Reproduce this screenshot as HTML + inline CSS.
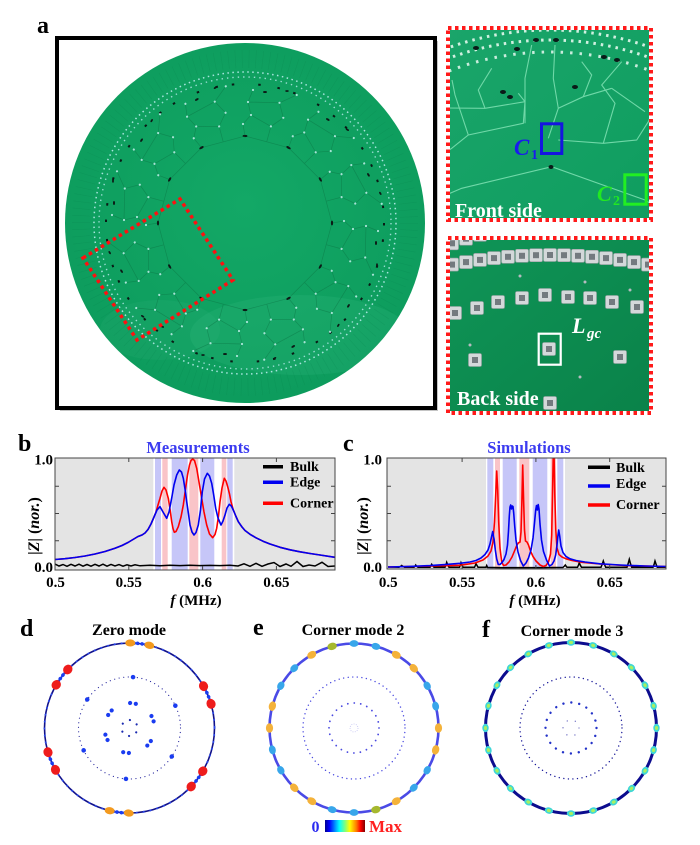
<!DOCTYPE html>
<html><head><meta charset="utf-8"><style>
html,body{margin:0;padding:0;background:#fff;overflow:hidden}
svg{display:block}
</style></head><body>
<svg width="700" height="845" viewBox="0 0 700 845" xmlns="http://www.w3.org/2000/svg" font-family="'Liberation Serif', serif">
<defs>
<radialGradient id="gb" cx="0.5" cy="0.45" r="0.55">
<stop offset="0" stop-color="#13a866"/><stop offset="1" stop-color="#0d9c5d"/>
</radialGradient>
<linearGradient id="gfront" x1="0" y1="0" x2="1" y2="1">
<stop offset="0" stop-color="#1aa56a"/><stop offset="1" stop-color="#0f9d5f"/>
</linearGradient>
<linearGradient id="gback" x1="0" y1="0" x2="1" y2="1">
<stop offset="0" stop-color="#0f9557"/><stop offset="1" stop-color="#0a8249"/>
</linearGradient>
<linearGradient id="jet" x1="0" y1="0" x2="1" y2="0">
<stop offset="0" stop-color="#00008f"/><stop offset=".11" stop-color="#0000ff"/><stop offset=".36" stop-color="#00ffff"/><stop offset=".5" stop-color="#7fff7f"/><stop offset=".62" stop-color="#ffff00"/><stop offset=".78" stop-color="#ff7f00"/><stop offset=".89" stop-color="#ff0000"/><stop offset="1" stop-color="#800000"/>
</linearGradient>
<clipPath id="cboard"><circle cx="245" cy="223" r="180"/></clipPath>
<clipPath id="cf"><rect x="446" y="26" width="207" height="196"/></clipPath>
<clipPath id="cbk"><rect x="446" y="236" width="207" height="179"/></clipPath>
<clipPath id="cb"><rect x="55" y="458" width="280" height="112"/></clipPath>
<clipPath id="cc"><rect x="387" y="458" width="279" height="111"/></clipPath>
<g id="sec">
<path d="M0,-87 L43.5,-75.3 M0,-87 L-2,-99 L6,-108 L3,-121 L8,-133 M25.9,-96.6 L38.3,-105.2 L34.5,-120.2 L51.7,-128 M6,-108 L25.9,-96.6 M3,-121 L34.5,-120.2 M21.7,-81.2 L25.9,-96.6" stroke="#0a6f40" stroke-width=".7" fill="none" opacity=".45"/>
<g fill="#b8ece4" opacity=".9"><circle cx="-2" cy="-99" r="1.1"/><circle cx="6" cy="-108" r="1.1"/><circle cx="3" cy="-121" r="1.1"/><circle cx="8" cy="-133" r="1.1"/><circle cx="25.9" cy="-96.6" r="1.1"/><circle cx="38.3" cy="-105.2" r="1.1"/><circle cx="34.5" cy="-120.2" r="1.1"/><circle cx="51.7" cy="-128" r="1.1"/></g>
<g fill="#0c1a16"><ellipse cx="0" cy="-87" rx="2.4" ry="1.1"/><ellipse cx="20" cy="-131" rx="2" ry="1"/><ellipse cx="42" cy="-132" rx="1.8" ry=".9"/></g>
</g>
<g id="ind"><rect x="-6.5" y="-6.5" width="13" height="13" rx="1.5" fill="#d4d8da" stroke="#9aa1a4" stroke-width=".6"/><rect x="-3" y="-3" width="6" height="6" fill="#737a7f"/></g>
</defs>
<rect width="700" height="845" fill="#fff"/>

<!-- ===== Panel a ===== -->
<text x="37" y="33" font-size="24" font-weight="bold">a</text>
<rect x="60" y="41" width="378" height="370" fill="#c4c4c4"/>
<rect x="57" y="38" width="378" height="370" fill="#fff" stroke="#000" stroke-width="4"/>
<circle cx="245" cy="223" r="180" fill="url(#gb)"/>
<g clip-path="url(#cboard)">
<ellipse cx="300" cy="335" rx="110" ry="40" fill="#3fc08a" opacity=".18"/>
<ellipse cx="160" cy="330" rx="60" ry="30" fill="#3fc08a" opacity=".12"/>
</g>
<circle cx="245" cy="223" r="164" fill="none" stroke="#0b7a48" stroke-width="18" stroke-dasharray="0.5 6.37" opacity=".22"/>
<circle cx="245" cy="223" r="151" fill="none" stroke="#b8ecec" stroke-width="1.5" stroke-dasharray="1.5 3.49" opacity=".9"/>
<circle cx="245" cy="223" r="146" fill="none" stroke="#b0e6e6" stroke-width="1.4" stroke-dasharray="1.4 4" opacity=".85"/>
<circle cx="245" cy="223" r="139" fill="none" stroke="#0a1a15" stroke-width="2" stroke-dasharray="2.5 14 2.5 24 2.5 17"/>
<g transform="translate(245,223)">
<use href="#sec"/><use href="#sec" transform="rotate(30)"/><use href="#sec" transform="rotate(60)"/><use href="#sec" transform="rotate(90)"/><use href="#sec" transform="rotate(120)"/><use href="#sec" transform="rotate(150)"/><use href="#sec" transform="rotate(180)"/><use href="#sec" transform="rotate(210)"/><use href="#sec" transform="rotate(240)"/><use href="#sec" transform="rotate(270)"/><use href="#sec" transform="rotate(300)"/><use href="#sec" transform="rotate(330)"/>
</g>
<polygon points="83,258 180,199 233,280 137,340" fill="none" stroke="#ff1010" stroke-width="3.5" stroke-dasharray="3.5 3.5"/>

<!-- front side -->
<g clip-path="url(#cf)">
<rect x="446" y="26" width="207" height="196" fill="url(#gfront)"/>
<circle cx="550" cy="330" r="300" fill="none" stroke="#d0f0e0" stroke-width="3" stroke-dasharray="2.5 5"/>
<circle cx="550" cy="330" r="290" fill="none" stroke="#d0f0e0" stroke-width="3" stroke-dasharray="2.5 5"/>
<circle cx="550" cy="330" r="278" fill="none" stroke="#c8ecdc" stroke-width="3" stroke-dasharray="2.5 7"/>
<g stroke="#70d8a8" stroke-width="1.1" fill="none">
<polyline points="446,152 451.7,148.3 468.3,135 523.3,123.3 525,101.7 518.3,93.3"/>
<polyline points="468.3,135 460,110 455,95 452,80"/>
<polyline points="548.3,138.3 558.3,108.3 553.3,78.3 555,45"/>
<polyline points="558.3,140 603.3,143.3 636.7,140 648.3,121.7 653,110"/>
<polyline points="603.3,143.3 615,103.3 601.7,85 621.7,61.7"/>
<polyline points="525,123.3 525,78.3 531.7,45"/>
<polyline points="485,108.3 478.3,90 491.7,68.3"/>
<polyline points="446,108 485,108.3 525,101.7"/>
<polyline points="583.3,96.7 591.7,75 581.7,61.7"/>
<polyline points="611.7,88.3 645,111.7"/>
<polyline points="446,195 461.7,188.3 551.7,166.7 645,200 653,205"/>
<polyline points="558.3,108.3 583.3,96.7 611.7,88.3"/>
</g>
<g fill="#0a1a18">
<ellipse cx="476" cy="48" rx="3" ry="2"/><ellipse cx="536" cy="40" rx="3" ry="2"/><ellipse cx="556" cy="40" rx="3" ry="2"/><ellipse cx="517" cy="49" rx="3" ry="2"/><ellipse cx="604" cy="57" rx="3" ry="2"/><ellipse cx="617" cy="60" rx="3" ry="2"/><ellipse cx="503" cy="92" rx="3" ry="2"/><ellipse cx="510" cy="97" rx="3" ry="2"/><ellipse cx="575" cy="87" rx="3" ry="2"/><ellipse cx="551" cy="167" rx="2.5" ry="2"/>
</g>
</g>
<rect x="448" y="28" width="203" height="192" fill="none" stroke="#fff" stroke-width="4"/>
<rect x="448" y="28" width="203" height="192" fill="none" stroke="#ff1a1a" stroke-width="4" stroke-dasharray="3.5 3.5"/>
<rect x="541.5" y="123.8" width="20.3" height="29.7" fill="none" stroke="#1515e0" stroke-width="3"/>
<rect x="624.8" y="174.8" width="21.4" height="29.4" fill="none" stroke="#22ee22" stroke-width="3"/>
<text x="514" y="155" font-size="23" font-weight="bold" font-style="italic" fill="#1a1aee">C</text>
<text x="531" y="159" font-size="14" font-weight="bold" fill="#1a1aee">1</text>
<text x="597" y="201" font-size="22" font-weight="bold" font-style="italic" fill="#22e822">C</text>
<text x="613" y="205" font-size="14" font-weight="bold" fill="#22e822">2</text>
<text x="455" y="217" font-size="20" font-weight="bold" fill="#fff">Front side</text>

<!-- back side -->
<g clip-path="url(#cbk)">
<rect x="446" y="236" width="207" height="179" fill="url(#gback)"/>
<use href="#ind" x="452" y="243.3"/><use href="#ind" x="466" y="238.7"/><use href="#ind" x="480" y="234.8"/>
<use href="#ind" x="452" y="264.6"/><use href="#ind" x="466" y="262.1"/><use href="#ind" x="480" y="259.9"/><use href="#ind" x="494" y="258.1"/><use href="#ind" x="508" y="256.8"/><use href="#ind" x="522" y="255.8"/><use href="#ind" x="536" y="255.2"/><use href="#ind" x="550" y="255"/><use href="#ind" x="564" y="255.2"/><use href="#ind" x="578" y="255.8"/><use href="#ind" x="592" y="256.8"/><use href="#ind" x="606" y="258.1"/><use href="#ind" x="620" y="259.9"/><use href="#ind" x="634" y="262.1"/><use href="#ind" x="648" y="264.6"/>
<use href="#ind" x="455" y="313"/><use href="#ind" x="477" y="308"/><use href="#ind" x="498" y="302"/><use href="#ind" x="522" y="298"/><use href="#ind" x="545" y="295"/><use href="#ind" x="568" y="297"/><use href="#ind" x="590" y="298"/><use href="#ind" x="612" y="302"/><use href="#ind" x="637" y="307"/>
<use href="#ind" x="475" y="360"/><use href="#ind" x="549" y="349"/><use href="#ind" x="620" y="357"/>
<use href="#ind" x="550" y="403"/>
<g fill="#b5bcc0"><circle cx="520" cy="276" r="1.5"/><circle cx="585" cy="282" r="1.5"/><circle cx="470" cy="345" r="1.5"/><circle cx="580" cy="377" r="1.5"/><circle cx="630" cy="290" r="1.5"/></g>
</g>
<rect x="448" y="238" width="203" height="175" fill="none" stroke="#fff" stroke-width="4"/>
<rect x="448" y="238" width="203" height="175" fill="none" stroke="#ff1a1a" stroke-width="4" stroke-dasharray="3.5 3.5"/>
<rect x="538.7" y="333.7" width="22" height="31" fill="none" stroke="#fff" stroke-width="2.2"/>
<text x="572" y="333" font-size="22" font-weight="bold" font-style="italic" fill="#fff">L</text>
<text x="587" y="338" font-size="15" font-weight="bold" font-style="italic" fill="#fff">gc</text>
<text x="457" y="405" font-size="20" font-weight="bold" fill="#fff">Back side</text>

<!-- ===== Panel b ===== -->
<text x="18" y="451" font-size="24" font-weight="bold">b</text>
<text x="198" y="453" font-size="16.5" font-weight="bold" fill="#3c3cf0" text-anchor="middle">Measurements</text>
<g clip-path="url(#cb)">
<rect x="55" y="458" width="280" height="112" fill="#e4e4e4"/>
<rect x="153.3" y="458" width="81" height="112" fill="#fff"/>
<g fill="#c6c6f8"><rect x="155" y="458" width="6" height="112"/><rect x="171.7" y="458" width="16" height="112"/><rect x="200.3" y="458" width="14" height="112"/><rect x="227.3" y="458" width="5.4" height="112"/></g>
<g fill="#f9c4c8"><rect x="162.3" y="458" width="5.4" height="112"/><rect x="189.3" y="458" width="9" height="112"/><rect x="221.7" y="458" width="4.6" height="112"/></g>
<polyline fill="none" stroke="#000" stroke-width="1.5" points="55,564 59,566 63,564.5 67,566.3 71,564.3 75,566 79,564.2 83,566.2 87,564.5 91,566.2 95,564.3 99,566 103,564.2 107,566.2 111,564.4 115,566 119,564.6 123,566.2 127,564.8 131,566 135,564.8 140,565.8 150,565.3 160,565.8 170,565.3 180,565.6 190,565.3 200,565.6 210,565.4 220,565.6 230,565.2 238,566 244,563.8 250,566.3 256,563.3 262,566.3 268,564 274,562.5 280,566.5 286,564 291,566.3 297,561.5 303,566.5 309,565 315,566 322,562.3 328,566.5 335,566"/>
<polyline fill="none" stroke="#ff0000" stroke-width="1.6" stroke-linejoin="round" points="55,559.5 65,558.7 75,557.5 85,556 95,554 105,551.5 115,548.3 122,545.5 128,542.5 133,539.5 138,536.5 142,535 145,533 148,529.5 151,524 154,517 156,512 158,505 160,498.3 162,491 164,487.3 166,490 168.3,498.3 170,509 171.7,521.7 173,528.5 174.3,532.3 176,531.5 178.3,526.7 181,517 183.3,505 185.5,489 187.5,475 189.5,465 191,460.5 192.7,459 194.5,460.5 196.7,468.3 199,482 201.7,498.3 204,512 206.7,525 209.5,534 212.7,537.7 215,534.5 216.7,528.3 218.5,516 220,501.7 222,488 224.3,478.3 226,481 227.7,486.7 229.5,494 231,501.7 233.3,510 236,516.5 238.3,521.7 242,527 245,530.5 250,534.3 256,537.8 263,541.2 270,544 280,547.3 290,549.8 300,551.8 310,553.5 320,555 335,557.3"/>
<polyline fill="none" stroke="#0000f0" stroke-width="1.6" stroke-linejoin="round" points="55,559.5 65,558.7 75,557.5 85,556 95,554 105,551.5 115,548.3 122,545.5 128,542.5 133,539.5 138,536.5 142,535 145,533 148,529.5 151,524 154,517 157,510 160,506.7 163.3,512.5 166.7,518.3 169,512 171.7,498 174,485 176.7,475 179.3,470 181.5,472 183.3,478.3 185,489 186.7,501.7 188.5,514 190,525 192,532 194,535 196,532.5 198.3,525 200.5,510 202.3,491.7 204.5,479 207.3,473.3 209.5,476 211.7,483.3 213.7,495 215.7,508.3 218,518 221,525 223,521 225,515 227,508 229.3,504.3 231.3,506 233.3,510 236,516.5 238.3,521.7 242,527 245,530.5 250,534.3 256,537.8 263,541.2 270,544 280,547.3 290,549.8 300,551.8 310,553.5 320,555 335,557.3"/>
</g>
<rect x="55" y="458" width="280" height="112" fill="none" stroke="#444" stroke-width="1"/>
<g stroke="#444" stroke-width="1">
<line x1="55" y1="540.75" x2="59" y2="540.75"/><line x1="55" y1="513.5" x2="59" y2="513.5"/><line x1="55" y1="486.25" x2="59" y2="486.25"/>
<line x1="335" y1="540.75" x2="331" y2="540.75"/><line x1="335" y1="513.5" x2="331" y2="513.5"/><line x1="335" y1="486.25" x2="331" y2="486.25"/>
<line x1="128.8" y1="570" x2="128.8" y2="566"/><line x1="202.6" y1="570" x2="202.6" y2="566"/><line x1="276.4" y1="570" x2="276.4" y2="566"/>
<line x1="128.8" y1="458" x2="128.8" y2="462"/><line x1="202.6" y1="458" x2="202.6" y2="462"/><line x1="276.4" y1="458" x2="276.4" y2="462"/>
</g>
<g font-size="15" font-weight="bold">
<text x="53" y="464.5" text-anchor="end">1.0</text>
<text x="53" y="572" text-anchor="end">0.0</text>
<text x="55.5" y="587" text-anchor="middle">0.5</text>
<text x="128.8" y="587" text-anchor="middle">0.55</text>
<text x="202.6" y="587" text-anchor="middle">0.6</text>
<text x="276.4" y="587" text-anchor="middle">0.65</text>
</g>
<text transform="translate(39,526) rotate(-90)" text-anchor="middle" font-size="16" font-weight="bold">|<tspan font-style="italic">Z</tspan>| (<tspan font-style="italic">nor.</tspan>)</text>
<text x="196" y="605" text-anchor="middle" font-size="15" font-weight="bold"><tspan font-style="italic">f</tspan> (MHz)</text>
<line x1="263" y1="466.7" x2="283" y2="466.7" stroke="#000" stroke-width="3.5"/>
<line x1="263" y1="482.3" x2="283" y2="482.3" stroke="#0000f0" stroke-width="3.5"/>
<line x1="263" y1="503.3" x2="283" y2="503.3" stroke="#ff0000" stroke-width="3.5"/>
<g font-size="14" font-weight="bold">
<text x="290" y="471">Bulk</text><text x="290" y="486.5">Edge</text><text x="290" y="507.5">Corner</text>
</g>

<!-- ===== Panel c ===== -->
<text x="343" y="451" font-size="24" font-weight="bold">c</text>
<text x="529" y="453" font-size="16.5" font-weight="bold" fill="#3c3cf0" text-anchor="middle">Simulations</text>
<g clip-path="url(#cc)">
<rect x="387" y="458" width="279" height="111" fill="#e4e4e4"/>
<rect x="486" y="458" width="79" height="111" fill="#fff"/>
<g fill="#c6c6f8"><rect x="487.3" y="458" width="6" height="111"/><rect x="502.7" y="458" width="14" height="111"/><rect x="532.7" y="458" width="14.6" height="111"/><rect x="557.3" y="458" width="6" height="111"/></g>
<g fill="#f9c4c8"><rect x="495" y="458" width="5" height="111"/><rect x="519.3" y="458" width="10" height="111"/><rect x="550.7" y="458" width="5.3" height="111"/></g>
<polyline fill="none" stroke="#000" stroke-width="1.5" points="388,567 399,567.2 400.5,566.5 401.7,565.5 403,566.5 404.5,567.3 414,567.3 415,566.3 415.7,565 416.7,566.3 418,567.3 430,567.3 431,565.8 431.7,564.3 432.7,565.8 434,567.3 445,567.3 446,564.8 446.7,562.3 447.7,564.8 449,567.3 459.5,567.3 460.3,565 461,562.7 462,565 463,567.3 474.5,567.3 475.3,565.5 476,563.7 477,565.5 478,567.3 486,567.3 486.7,565.5 487.5,567.4 500,567.6 520,567.6 540,567.6 563,567.4 564.5,566 565.3,565 566,566 567,567.3 577.5,567.3 578.5,565 579.3,562.7 580.2,565 581.5,567.3 601,567.3 602.3,564 603.3,561 604.3,564 605.7,567.3 627,567.3 628.3,563 629.3,559.3 630.3,563 631.7,567.3 653,567.3 654.2,564 655,561 656,564 657.3,567.3 666,567.3"/>
<polyline fill="none" stroke="#ff0000" stroke-width="1.6" stroke-linejoin="round" points="388,567 430,566 460,565.3 475,563 483,560 488,556 491,551 493,542 494.5,522 495.7,495 496.7,471 497.7,490 498.7,522 500,548 501.7,562 503.5,565.5 506,565 509,562 512,557 514.5,551 516.5,546 518.3,543 520,542 521,532 521.8,505 522.7,465 523.6,500 524.5,530 525.5,541 527,542 528.5,545 530.5,551 533,556.5 536,561 540,565 543.3,566.5 546,565.5 548.5,562 550.5,554 551.7,535 552.6,490 553.3,452 554,452 554.8,495 555.8,530 557,548 559,554.5 562,557 566,558.8 572,560.5 582,562.3 600,564 625,565.5 666,566.5"/>
<polyline fill="none" stroke="#0000f0" stroke-width="1.6" stroke-linejoin="round" points="388,567 410,566.4 430,565.6 445,564.6 460,563.3 470,562 476,560.5 481,558 485,554.5 488,550 490,544 491.5,537 492.7,531.5 494,538.5 495.3,550 496.7,559 498.3,564.5 500,564.5 502,562.5 504,559.5 506,554 507.5,545 508.5,531 509.3,516 510,507 510.7,505 511.5,509 512.3,506 513,506.5 513.7,513 514.7,526 516,540 518,552 520.5,560.5 523.3,566 526,563 528.5,558 531,550 533,538 534.5,523 535.7,510 536.5,505.5 537.3,510 538.2,504.5 539,509 540,524 541.5,540 543.5,551.5 546.5,560 549.5,566 552,564.5 554,561 555.7,555 557,545 558,535 558.7,530 559.7,536 561,546 563,552.5 566,556.5 570,558.8 576,560.5 585,562 600,563.8 620,565 645,566 666,566.5"/>
</g>
<rect x="387" y="458" width="279" height="111" fill="none" stroke="#444" stroke-width="1"/>
<g stroke="#444" stroke-width="1">
<line x1="387" y1="540.75" x2="391" y2="540.75"/><line x1="387" y1="513.5" x2="391" y2="513.5"/><line x1="387" y1="486.25" x2="391" y2="486.25"/>
<line x1="666" y1="540.75" x2="662" y2="540.75"/><line x1="666" y1="513.5" x2="662" y2="513.5"/><line x1="666" y1="486.25" x2="662" y2="486.25"/>
<line x1="462.1" y1="569" x2="462.1" y2="565"/><line x1="535.9" y1="569" x2="535.9" y2="565"/><line x1="609.7" y1="569" x2="609.7" y2="565"/>
<line x1="462.1" y1="458" x2="462.1" y2="462"/><line x1="535.9" y1="458" x2="535.9" y2="462"/><line x1="609.7" y1="458" x2="609.7" y2="462"/>
</g>
<g font-size="15" font-weight="bold">
<text x="382" y="464.5" text-anchor="end">1.0</text>
<text x="382" y="572" text-anchor="end">0.0</text>
<text x="388.3" y="587" text-anchor="middle">0.5</text>
<text x="462.1" y="587" text-anchor="middle">0.55</text>
<text x="535.9" y="587" text-anchor="middle">0.6</text>
<text x="609.7" y="587" text-anchor="middle">0.65</text>
</g>
<text transform="translate(368,526) rotate(-90)" text-anchor="middle" font-size="16" font-weight="bold">|<tspan font-style="italic">Z</tspan>| (<tspan font-style="italic">nor.</tspan>)</text>
<text x="535" y="605" text-anchor="middle" font-size="15" font-weight="bold"><tspan font-style="italic">f</tspan> (MHz)</text>
<line x1="588" y1="467.3" x2="610" y2="467.3" stroke="#000" stroke-width="3.5"/>
<line x1="588" y1="486" x2="610" y2="486" stroke="#0000f0" stroke-width="3.5"/>
<line x1="588" y1="505" x2="610" y2="505" stroke="#ff0000" stroke-width="3.5"/>
<g font-size="14" font-weight="bold">
<text x="616" y="472">Bulk</text><text x="616" y="488">Edge</text><text x="616" y="509">Corner</text>
</g>

<!-- ===== Panel d ===== -->
<text x="20" y="636" font-size="24" font-weight="bold">d</text>
<text x="129" y="635" font-size="16" font-weight="bold" text-anchor="middle">Zero mode</text>
<g transform="translate(129.5,728)">
<circle r="85" fill="none" stroke="#12128a" stroke-width="1.6"/>
<circle r="85" fill="none" stroke="#2a48e8" stroke-width="2" stroke-linecap="round" stroke-dasharray="0.01 7"/>
<circle r="51" fill="none" stroke="#2a2aa0" stroke-width="1.2" stroke-linecap="round" stroke-dasharray="0.01 4.58"/>
<g fill="#1a3cf0">
<circle cx="0" cy="-51" r="2.3" transform="rotate(4)"/><circle cx="0" cy="-51" r="2.3" transform="rotate(64)"/><circle cx="0" cy="-51" r="2.3" transform="rotate(124)"/><circle cx="0" cy="-51" r="2.3" transform="rotate(184)"/><circle cx="0" cy="-51" r="2.3" transform="rotate(244)"/><circle cx="0" cy="-51" r="2.3" transform="rotate(304)"/>
<circle cx="0" cy="-25" r="2.1" transform="rotate(1.4)"/><circle cx="0" cy="-25" r="2.1" transform="rotate(14.6)"/>
<circle cx="0" cy="-25" r="2.1" transform="rotate(61.4)"/><circle cx="0" cy="-25" r="2.1" transform="rotate(74.6)"/>
<circle cx="0" cy="-25" r="2.1" transform="rotate(121.4)"/><circle cx="0" cy="-25" r="2.1" transform="rotate(134.6)"/>
<circle cx="0" cy="-25" r="2.1" transform="rotate(181.4)"/><circle cx="0" cy="-25" r="2.1" transform="rotate(194.6)"/>
<circle cx="0" cy="-25" r="2.1" transform="rotate(241.4)"/><circle cx="0" cy="-25" r="2.1" transform="rotate(254.6)"/>
<circle cx="0" cy="-25" r="2.1" transform="rotate(301.4)"/><circle cx="0" cy="-25" r="2.1" transform="rotate(314.6)"/>
</g>
<g fill="#1a2ab0">
<circle cx="0" cy="-8" r="1.1" transform="rotate(3)"/><circle cx="0" cy="-8" r="1.1" transform="rotate(63)"/><circle cx="0" cy="-8" r="1.1" transform="rotate(123)"/><circle cx="0" cy="-8" r="1.1" transform="rotate(183)"/><circle cx="0" cy="-8" r="1.1" transform="rotate(243)"/><circle cx="0" cy="-8" r="1.1" transform="rotate(303)"/>
</g>
<g transform="rotate(7)">
<g fill="#1a3cf0"><circle cx="-5.9" cy="-84.8" r="1.8"/><circle cx="-2.2" cy="-85" r="1.8"/><circle cx="2.2" cy="-85" r="1.8"/><circle cx="5.9" cy="-84.8" r="1.8"/></g>
<ellipse cx="-9.6" cy="-84.5" rx="5" ry="3.6" fill="#f39a1e" transform="rotate(-6.5 -9.6 -84.5)"/>
<ellipse cx="9.6" cy="-84.5" rx="5" ry="3.6" fill="#f39a1e" transform="rotate(6.5 9.6 -84.5)"/>
</g>
<g transform="rotate(187)">
<g fill="#1a3cf0"><circle cx="-5.9" cy="-84.8" r="1.8"/><circle cx="-2.2" cy="-85" r="1.8"/><circle cx="2.2" cy="-85" r="1.8"/><circle cx="5.9" cy="-84.8" r="1.8"/></g>
<ellipse cx="-9.6" cy="-84.5" rx="5" ry="3.6" fill="#f39a1e"/>
<ellipse cx="9.6" cy="-84.5" rx="5" ry="3.6" fill="#f39a1e"/>
</g>
<g transform="rotate(67)">
<g fill="#1a3cf0"><circle cx="-5.9" cy="-84.8" r="1.8"/><circle cx="-2.2" cy="-85" r="1.8"/><circle cx="2.2" cy="-85" r="1.8"/><circle cx="5.9" cy="-84.8" r="1.8"/></g>
<ellipse cx="-9.6" cy="-84.5" rx="5" ry="4.5" fill="#ee1c1c"/>
<ellipse cx="9.6" cy="-84.5" rx="5" ry="4.5" fill="#ee1c1c"/>
</g>
<g transform="rotate(127)">
<g fill="#1a3cf0"><circle cx="-5.9" cy="-84.8" r="1.8"/><circle cx="-2.2" cy="-85" r="1.8"/><circle cx="2.2" cy="-85" r="1.8"/><circle cx="5.9" cy="-84.8" r="1.8"/></g>
<ellipse cx="-9.6" cy="-84.5" rx="5" ry="4.5" fill="#ee1c1c"/>
<ellipse cx="9.6" cy="-84.5" rx="5" ry="4.5" fill="#ee1c1c"/>
</g>
<g transform="rotate(247)">
<g fill="#1a3cf0"><circle cx="-5.9" cy="-84.8" r="1.8"/><circle cx="-2.2" cy="-85" r="1.8"/><circle cx="2.2" cy="-85" r="1.8"/><circle cx="5.9" cy="-84.8" r="1.8"/></g>
<ellipse cx="-9.6" cy="-84.5" rx="5" ry="4.5" fill="#ee1c1c"/>
<ellipse cx="9.6" cy="-84.5" rx="5" ry="4.5" fill="#ee1c1c"/>
</g>
<g transform="rotate(307)">
<g fill="#1a3cf0"><circle cx="-5.9" cy="-84.8" r="1.8"/><circle cx="-2.2" cy="-85" r="1.8"/><circle cx="2.2" cy="-85" r="1.8"/><circle cx="5.9" cy="-84.8" r="1.8"/></g>
<ellipse cx="-9.6" cy="-84.5" rx="5" ry="4.5" fill="#ee1c1c"/>
<ellipse cx="9.6" cy="-84.5" rx="5" ry="4.5" fill="#ee1c1c"/>
</g>
</g>

<!-- ===== Panel e ===== -->
<text x="253" y="635" font-size="24" font-weight="bold">e</text>
<text x="353" y="635" font-size="16" font-weight="bold" text-anchor="middle">Corner mode 2</text>
<g transform="translate(354,728)">
<circle r="84.5" fill="none" stroke="#4a4ae6" stroke-width="2.6"/>
<circle r="51" fill="none" stroke="#4a4ae0" stroke-width="1.4" stroke-linecap="round" stroke-dasharray="0.01 4.58"/>
<circle r="25" fill="none" stroke="#4a4ae0" stroke-width="1.8" stroke-linecap="round" stroke-dasharray="0.01 6.54"/>
<circle r="4" fill="none" stroke="#b8b8f0" stroke-width=".8" stroke-dasharray="0.8 1.5"/>
<g>
<ellipse cx="0" cy="-84.5" rx="4.8" ry="3.6" fill="#f4b23a" transform="rotate(90)"/>
<ellipse cx="0" cy="-84.5" rx="4.8" ry="3.6" fill="#f4b23a" transform="rotate(105)"/>
<ellipse cx="0" cy="-84.5" rx="4.5" ry="3.4" fill="#38a6ea" transform="rotate(120)"/>
<ellipse cx="0" cy="-84.5" rx="4.5" ry="3.4" fill="#38a6ea" transform="rotate(135)"/>
<ellipse cx="0" cy="-84.5" rx="4.8" ry="3.6" fill="#f4b23a" transform="rotate(150)"/>
<ellipse cx="0" cy="-84.5" rx="4.8" ry="3.6" fill="#a6b82e" transform="rotate(165)"/>
<ellipse cx="0" cy="-84.5" rx="4.5" ry="3.4" fill="#38a6ea" transform="rotate(180)"/>
<ellipse cx="0" cy="-84.5" rx="4.5" ry="3.4" fill="#38a6ea" transform="rotate(195)"/>
<ellipse cx="0" cy="-84.5" rx="4.8" ry="3.6" fill="#f4b23a" transform="rotate(210)"/>
<ellipse cx="0" cy="-84.5" rx="4.8" ry="3.6" fill="#f4b23a" transform="rotate(225)"/>
<ellipse cx="0" cy="-84.5" rx="4.5" ry="3.4" fill="#38a6ea" transform="rotate(240)"/>
<ellipse cx="0" cy="-84.5" rx="4.5" ry="3.4" fill="#38a6ea" transform="rotate(255)"/>
<ellipse cx="0" cy="-84.5" rx="4.8" ry="3.6" fill="#f4b23a" transform="rotate(270)"/>
<ellipse cx="0" cy="-84.5" rx="4.8" ry="3.6" fill="#f4b23a" transform="rotate(285)"/>
<ellipse cx="0" cy="-84.5" rx="4.5" ry="3.4" fill="#38a6ea" transform="rotate(300)"/>
<ellipse cx="0" cy="-84.5" rx="4.5" ry="3.4" fill="#38a6ea" transform="rotate(315)"/>
<ellipse cx="0" cy="-84.5" rx="4.8" ry="3.6" fill="#f4b23a" transform="rotate(330)"/>
<ellipse cx="0" cy="-84.5" rx="4.8" ry="3.6" fill="#a6b82e" transform="rotate(345)"/>
<ellipse cx="0" cy="-84.5" rx="4.5" ry="3.4" fill="#38a6ea" transform="rotate(0)"/>
<ellipse cx="0" cy="-84.5" rx="4.5" ry="3.4" fill="#38a6ea" transform="rotate(15)"/>
<ellipse cx="0" cy="-84.5" rx="4.8" ry="3.6" fill="#f4b23a" transform="rotate(30)"/>
<ellipse cx="0" cy="-84.5" rx="4.8" ry="3.6" fill="#f4b23a" transform="rotate(45)"/>
<ellipse cx="0" cy="-84.5" rx="4.5" ry="3.4" fill="#38a6ea" transform="rotate(60)"/>
<ellipse cx="0" cy="-84.5" rx="4.5" ry="3.4" fill="#38a6ea" transform="rotate(75)"/>
</g>
</g>
<text x="311.5" y="832" font-size="16" font-weight="bold" fill="#2a2af0">0</text>
<rect x="325" y="820" width="40" height="12" fill="url(#jet)"/>
<text x="369" y="832" font-size="17" font-weight="bold" fill="#ff2020">Max</text>

<!-- ===== Panel f ===== -->
<text x="482" y="637" font-size="24" font-weight="bold">f</text>
<text x="572" y="636" font-size="16" font-weight="bold" text-anchor="middle">Corner mode 3</text>
<g transform="translate(571,728)">
<circle r="85.5" fill="none" stroke="#0c0c8e" stroke-width="3"/>
<circle r="51" fill="none" stroke="#1a1a9a" stroke-width="1.4" stroke-linecap="round" stroke-dasharray="0.01 4.58"/>
<circle r="25.5" fill="none" stroke="#2433c8" stroke-width="2.4" stroke-linecap="round" stroke-dasharray="0.01 8.01"/>
<circle r="8" fill="none" stroke="#2020a0" stroke-width="1.1" stroke-linecap="round" stroke-dasharray="0.01 8.37"/>
<g id="fb">
<g transform="rotate(0)"><ellipse cx="0" cy="-85.5" rx="4.2" ry="3.2" fill="#3ed6d8"/><ellipse cx="0" cy="-85.5" rx="2" ry="1.6" fill="#a8f060"/></g>
<g transform="rotate(15)"><ellipse cx="0" cy="-85.5" rx="4.2" ry="3.2" fill="#3ed6d8"/><ellipse cx="0" cy="-85.5" rx="2" ry="1.6" fill="#a8f060"/></g>
<g transform="rotate(30)"><ellipse cx="0" cy="-85.5" rx="4.2" ry="3.2" fill="#3ed6d8"/><ellipse cx="0" cy="-85.5" rx="2" ry="1.6" fill="#a8f060"/></g>
<g transform="rotate(45)"><ellipse cx="0" cy="-85.5" rx="4.2" ry="3.2" fill="#3ed6d8"/><ellipse cx="0" cy="-85.5" rx="2" ry="1.6" fill="#a8f060"/></g>
<g transform="rotate(60)"><ellipse cx="0" cy="-85.5" rx="4.2" ry="3.2" fill="#3ed6d8"/><ellipse cx="0" cy="-85.5" rx="2" ry="1.6" fill="#a8f060"/></g>
<g transform="rotate(75)"><ellipse cx="0" cy="-85.5" rx="4.2" ry="3.2" fill="#3ed6d8"/><ellipse cx="0" cy="-85.5" rx="2" ry="1.6" fill="#a8f060"/></g>
</g>
<use href="#fb" transform="rotate(90)"/>
<use href="#fb" transform="rotate(180)"/>
<use href="#fb" transform="rotate(270)"/>
</g>
</svg>
</body></html>
